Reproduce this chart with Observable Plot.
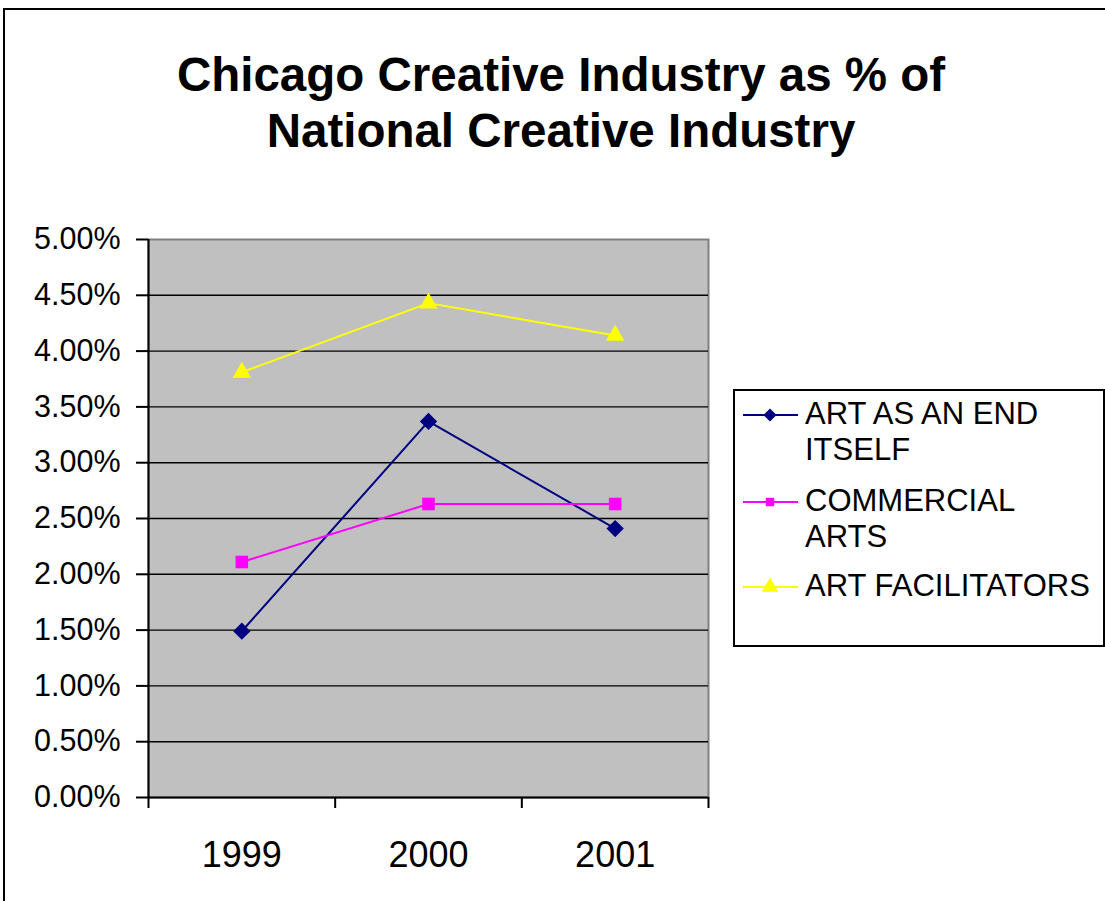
<!DOCTYPE html>
<html>
<head>
<meta charset="utf-8">
<script src="https://cdn.jsdelivr.net/npm/d3@7"></script>
<script src="https://cdn.jsdelivr.net/npm/@observablehq/plot@0.6"></script>
<style>
  html, body { margin: 0; padding: 0; background: #fff; }
  #wrap { position: relative; width: 1105px; height: 901px; overflow: hidden; font-family: 'Liberation Sans', Arial, sans-serif; color: #000; }
  #outer { position: absolute; left: 3px; top: 8px; width: 1300px; height: 1100px; border: 2px solid #000; box-sizing: border-box; }
  #title { position: absolute; left: 61px; width: 1000px; top: 47px; text-align: center; font-weight: bold; font-size: 47.5px; line-height: 56px; }
  #chart { position: absolute; left: 0; top: 0; }
  #legend { position: absolute; left: 733px; top: 389px; width: 372px; height: 258px; border: 2px solid #000; box-sizing: border-box; background: #fff; }
  .item { position: absolute; left: 70px; font-size: 31px; line-height: 36px; white-space: nowrap; }
  .sym { position: absolute; left: 8px; }
</style>
</head>
<body>
<div id="wrap">
  <div id="outer"></div>
  <div id="chart"></div>
  <div id="title"></div>
  <div id="legend"></div>
</div>
<script>
// ---- data ----
const titleLines = ["Chicago Creative Industry as % of", "National Creative Industry"];
const years = [1999, 2000, 2001];
const seriesNames = ["ART AS AN END ITSELF", "COMMERCIAL ARTS", "ART FACILITATORS"];
const legendLines = [["ART AS AN END", "ITSELF"], ["COMMERCIAL", "ARTS"], ["ART FACILITATORS"]];
const artEndItself = [0.0149, 0.0337, 0.0241];
const commercialArts = [0.0211, 0.0263, 0.0263];
const artFacilitators = [0.0381, 0.0443, 0.0414];
const yTicks = [0, 0.005, 0.01, 0.015, 0.02, 0.025, 0.03, 0.035, 0.04, 0.045, 0.05];
const xBoundaries = [1998.5, 1999.5, 2000.5, 2001.5];
const seriesColors = ["#000080", "#FF00FF", "#FFFF00"];
const seriesSymbols = ["diamond2", "square2", "triangle2"];

// ---- build table ----
const seriesValues = [artEndItself, commercialArts, artFacilitators];
const rows = seriesNames.flatMap((name, s) =>
  years.map((yr, i) => ({series: name, year: yr, value: seriesValues[s][i]}))
);

document.getElementById("title").innerHTML = titleLines.join("<br>");

const dotR = [7.8, 8.0, 8.8];
const marks = [
  Plot.frame({fill: "#C0C0C0", stroke: "#808080", strokeWidth: 2}),
  Plot.ruleY(yTicks.slice(1, -1), {stroke: "#000", strokeWidth: 1.4}),
  Plot.ruleX([xBoundaries[0]], {stroke: "#000", strokeWidth: 2}),
  Plot.ruleY([yTicks[0]], {stroke: "#000", strokeWidth: 2}),
  Plot.axisY(yTicks, {tickFormat: d3.format(".2%"), tickSize: 12, tickPadding: 16, fontSize: 30.5, strokeWidth: 2, label: null}),
  Plot.axisX(xBoundaries, {tickFormat: () => "", tickSize: 11, strokeWidth: 2, label: null}),
  Plot.axisX(years, {tickFormat: d => String(d), tickSize: 0, tickPadding: 44, fontSize: 36, label: null}),
];
seriesNames.forEach((name, s) => {
  const d = rows.filter(r => r.series === name);
  marks.push(Plot.line(d, {x: "year", y: "value", stroke: seriesColors[s], strokeWidth: 2}));
});
seriesNames.forEach((name, s) => {
  const d = rows.filter(r => r.series === name);
  marks.push(Plot.dot(d, {x: "year", y: "value", symbol: () => seriesSymbols[s], fill: seriesColors[s], stroke: "none", r: dotR[s]}));
});

const chart = Plot.plot({
  width: 1105,
  height: 901,
  marginTop: 239,
  marginLeft: 148,
  marginRight: 397,
  marginBottom: 104,
  style: {fontFamily: "'Liberation Sans', Arial, sans-serif", color: "#000", background: "transparent"},
  x: {domain: [xBoundaries[0], xBoundaries[xBoundaries.length - 1]], label: null},
  y: {domain: [yTicks[0], yTicks[yTicks.length - 1]], label: null},
  symbol: {type: "identity"},
  marks
});
document.getElementById("chart").appendChild(chart);

// ---- legend ----
const legend = document.getElementById("legend");
const itemTops = [5, 92, 177];
const symbolGen = [d3.symbolDiamond2, d3.symbolSquare2, d3.symbolTriangle2];
const symbolSize = [110, 90, 190];
seriesNames.forEach((name, s) => {
  const item = document.createElement("div");
  item.className = "item";
  item.style.top = itemTops[s] + "px";
  item.innerHTML = legendLines[s].join("<br>");
  legend.appendChild(item);
  const svg = d3.create("svg").attr("class", "sym").attr("width", 56).attr("height", 24)
    .style("top", (itemTops[s] + 18.5 - 12) + "px");
  svg.append("line").attr("x1", 0).attr("x2", 55).attr("y1", 12).attr("y2", 12)
    .attr("stroke", seriesColors[s]).attr("stroke-width", 2);
  svg.append("path").attr("transform", "translate(27,12)")
    .attr("d", d3.symbol(symbolGen[s], symbolSize[s])()).attr("fill", seriesColors[s]);
  legend.appendChild(svg.node());
});
</script>
</body>
</html>
